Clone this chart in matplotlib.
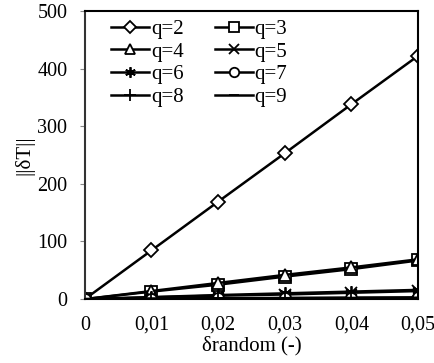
import matplotlib.pyplot as plt
import numpy as np

plt.rcParams['font.family'] = ['Liberation Serif', 'DejaVu Serif']

# donnees
x = [0, 0.01, 0.02, 0.03, 0.04, 0.05]
q2 = [0, 84.5, 169, 253, 338, 422]
q3 = [0, 13, 25, 39, 52, 67]
q4 = [0, 14, 28, 42, 55, 69]
q5 = [0, 3, 6, 8, 11, 14]
q6 = [0, 3.5, 7, 10, 13, 16]
q7 = [0, 1, 1.5, 2, 2.5, 3]
q8 = [0, 0.8, 1.2, 1.6, 2, 2.4]
q9 = [0, 0.4, 0.6, 0.8, 1, 1.2]
series = [q2, q3, q4, q5, q6, q7, q8, q9]
etiquettes = ['q=2', 'q=3', 'q=4', 'q=5', 'q=6', 'q=7', 'q=8', 'q=9']
marqueurs = ['D', 's', '^', 'x', (6, 2, 0), 'o', '+', '_']
tailles = [7, 8, 8, 8, 9, 8, 10, 8]

fig = plt.figure(figsize=(4.35, 3.63), dpi=100)
ax = fig.add_axes([0.195, 0.176, 0.766, 0.794])

lignes = []
for y, lab, m, s in zip(series, etiquettes, marqueurs, tailles):
    l, = ax.plot(x, y, color='black', lw=1.8, marker=m, markersize=s,
                 markerfacecolor='white', markeredgecolor='black',
                 markeredgewidth=1.3, label=lab)
    lignes.append(l)

ax.set_xlim(0, 0.05)
ax.set_ylim(0, 500)
ax.set_xticks(x)
ax.set_xticklabels(['0', '0,01', '0,02', '0,03', '0,04', '0,05'])
ax.set_yticks([0, 100, 200, 300, 400, 500])
ax.tick_params(axis='both', labelsize=14.5, direction='out')
ax.tick_params(axis='y', length=3.6, pad=9, color='#888888')
ax.tick_params(axis='x', length=0, pad=12)
for sp in ax.spines.values():
    sp.set_linewidth(1.5)
ax.spines['left'].set_color('#333333')
ax.set_xlabel('δrandom (-)', fontsize=15, labelpad=1)
ax.set_ylabel('||δT||', fontsize=15, labelpad=2)

# ordre ligne par ligne comme dans l'original
ordre = [0, 2, 4, 6, 1, 3, 5, 7]
ax.legend([lignes[i] for i in ordre], [etiquettes[i] for i in ordre],
          ncol=2, frameon=False, fontsize=15, loc='upper left',
          bbox_to_anchor=(0.08, 0.971), borderpad=0, borderaxespad=0,
          handlelength=1.8, handletextpad=0.1, labelspacing=0.15,
          columnspacing=1.5, markerscale=0.85)

fig.savefig('out.png', dpi=100)
